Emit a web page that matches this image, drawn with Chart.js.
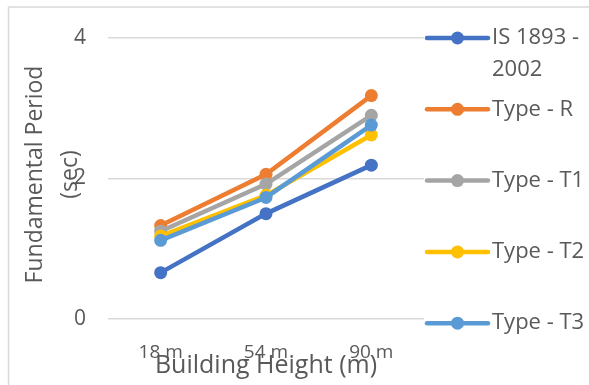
<!DOCTYPE html>
<html>
<head>
<meta charset="utf-8">
<script src="https://cdn.jsdelivr.net/npm/chart.js@4/dist/chart.umd.min.js"></script>
<style>
  html, body { margin: 0; padding: 0; background: #fff; }
  canvas { display: block; }
</style>
</head>
<body>
<canvas id="chart" width="589" height="385"></canvas>
<script>
// Fundamental period of the building models against building height
const categories = ['18 m', '54 m', '90 m'];
const seriesNames = ['IS 1893 - 2002', 'Type - R', 'Type - T1', 'Type - T2', 'Type - T3'];
const is1893 = [0.66, 1.50, 2.19];
const typeR  = [1.33, 2.06, 3.18];
const typeT1 = [1.25, 1.92, 2.90];
const typeT2 = [1.18, 1.76, 2.62];
const typeT3 = [1.12, 1.73, 2.76];
const yTicks = [0, 2, 4];

const seriesValues = [is1893, typeR, typeT1, typeT2, typeT3];
const seriesColors = ['#4472C4', '#ED7D31', '#A5A5A5', '#FFC000', '#5B9BD5'];

const FONT = "'Open Sans', sans-serif";
const TEXT = '#595959';
const GRID = '#D9D9D9';

// light outer frame of the chart object
const frame = {
  id: 'frame',
  beforeDraw(chart) {
    const { ctx } = chart;
    ctx.save();
    ctx.fillStyle = '#fff';
    ctx.fillRect(0, 0, chart.width, chart.height);
    ctx.strokeStyle = GRID;
    ctx.lineWidth = 1.5;
    ctx.strokeRect(8.5, 7, chart.width + 40, chart.height + 40);
    ctx.restore();
  }
};

// axis titles, placed relative to the plot area
const axisTitles = {
  id: 'axisTitles',
  afterDraw(chart) {
    const { ctx, chartArea: a } = chart;
    ctx.save();
    ctx.fillStyle = TEXT;
    ctx.textAlign = 'center';
    ctx.textBaseline = 'alphabetic';
    ctx.font = `25px ${FONT}`;
    ctx.fillText('Building Height (m)', (a.left + a.right) / 2, 373);

    ctx.translate(a.left - 73, (a.top + a.bottom) / 2 - 4);
    ctx.rotate(-Math.PI / 2);
    ctx.font = `23px ${FONT}`;
    ctx.textBaseline = 'middle';
    ctx.fillText('Fundamental Period', 0, 0);
    ctx.fillText('(sec)', 0, 35);
    ctx.restore();
  }
};

// legend column on the right: line + marker sample, wrapped label
const sideLegend = {
  id: 'sideLegend',
  afterDraw(chart) {
    const { ctx, chartArea: a } = chart;
    const x0 = a.right + 3, x1 = a.right + 64, xm = (x0 + x1) / 2;
    const textX = a.right + 68;
    const maxW = chart.width - textX;
    const step = 71.3, lineH = 32;
    ctx.save();
    ctx.font = `22px ${FONT}`;
    ctx.textBaseline = 'middle';
    ctx.textAlign = 'left';
    chart.data.datasets.forEach((ds, i) => {
      const y = a.top + i * step;
      ctx.strokeStyle = ds.borderColor;
      ctx.lineWidth = 4.5;
      ctx.lineCap = 'round';
      ctx.beginPath();
      ctx.moveTo(x0, y);
      ctx.lineTo(x1, y);
      ctx.stroke();
      ctx.fillStyle = ds.borderColor;
      ctx.beginPath();
      ctx.arc(xm, y, 6.5, 0, Math.PI * 2);
      ctx.fill();

      // simple word wrap
      const words = ds.label.split(' ');
      const lines = [];
      let cur = '';
      words.forEach(w => {
        const t = cur ? cur + ' ' + w : w;
        if (ctx.measureText(t).width > maxW && cur) { lines.push(cur); cur = w; }
        else cur = t;
      });
      lines.push(cur);
      ctx.fillStyle = TEXT;
      lines.forEach((ln, k) => ctx.fillText(ln, textX, y + k * lineH));
    });
    ctx.restore();
  }
};

const datasets = seriesNames.map((name, i) => ({
  label: name,
  data: seriesValues[i],
  borderColor: seriesColors[i],
  backgroundColor: seriesColors[i],
  pointBackgroundColor: seriesColors[i],
  pointBorderColor: seriesColors[i],
  borderWidth: 4.5,
  pointRadius: 6.5,
  pointBorderWidth: 0,
  tension: 0,
  order: seriesNames.length - i
}));

new Chart(document.getElementById('chart'), {
  type: 'line',
  data: { labels: categories, datasets },
  options: {
    responsive: false,
    devicePixelRatio: 1,
    animation: false,
    layout: { padding: { left: 0, right: 165, top: 38, bottom: 0 } },
    plugins: { legend: { display: false }, tooltip: { enabled: false } },
    scales: {
      x: {
        offset: true,
        grid: { display: false, drawTicks: false },
        border: { display: false },
        ticks: { color: TEXT, font: { family: FONT, size: 19 }, padding: 22, maxRotation: 0 },
        afterFit(s) { s.height = 66; }
      },
      y: {
        min: 0,
        max: 4,
        afterBuildTicks(s) { s.ticks = yTicks.map(v => ({ value: v })); },
        grid: { color: GRID, lineWidth: 1.5, drawTicks: false },
        border: { display: false },
        ticks: { color: TEXT, font: { family: FONT, size: 21 }, padding: 22 },
        afterFit(s) { s.width = 108; }
      }
    }
  },
  plugins: [frame, axisTitles, sideLegend]
});
</script>
</body>
</html>
